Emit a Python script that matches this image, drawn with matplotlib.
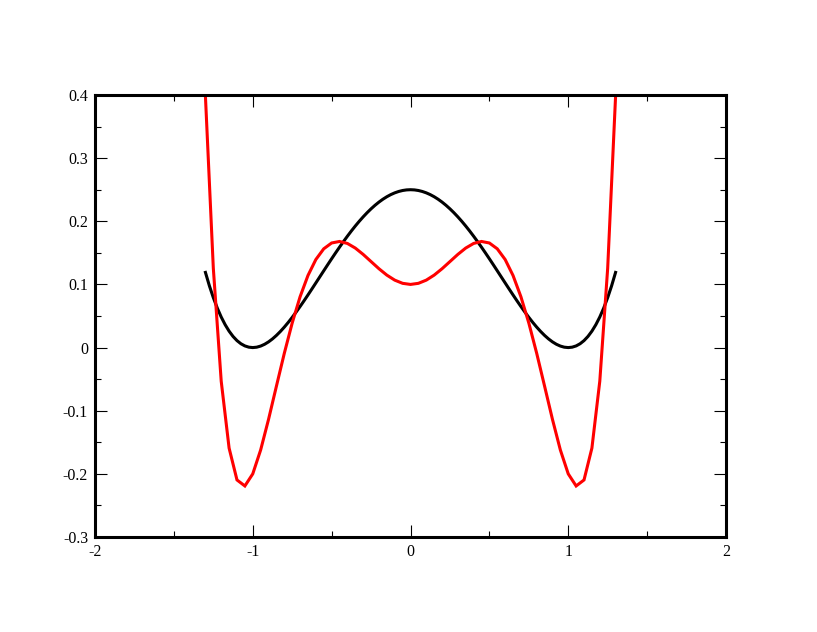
import numpy as np
import matplotlib
matplotlib.use("Agg")
import matplotlib.pyplot as plt
from matplotlib.ticker import MultipleLocator

plt.rcParams["font.family"] = ["Liberation Serif", "DejaVu Serif"]
plt.rcParams["axes.unicode_minus"] = False

# red curve, sampled every 0.05 (kinks visible near the minima)
x_red = [-1.30, -1.25, -1.20, -1.15, -1.10, -1.05, -1.00, -0.95, -0.90, -0.85,
         -0.80, -0.75, -0.70, -0.65, -0.60, -0.55, -0.50, -0.45, -0.40, -0.35,
         -0.30, -0.25, -0.20, -0.15, -0.10, -0.05, 0.00, 0.05, 0.10, 0.15,
         0.20, 0.25, 0.30, 0.35, 0.40, 0.45, 0.50, 0.55, 0.60, 0.65,
         0.70, 0.75, 0.80, 0.85, 0.90, 0.95, 1.00, 1.05, 1.10, 1.15,
         1.20, 1.25, 1.30]
red = [0.39761, 0.12563, -0.05322, -0.15920, -0.20964, -0.21917, -0.20000, -0.16217, -0.11376, -0.06111,
       -0.00906, 0.03892, 0.08045, 0.11416, 0.13946, 0.15642, 0.16563, 0.16804, 0.16490, 0.15758,
       0.14753, 0.13618, 0.12486, 0.11475, 0.10680, 0.10174, 0.10000, 0.10174, 0.10680, 0.11475,
       0.12486, 0.13618, 0.14753, 0.15758, 0.16490, 0.16804, 0.16563, 0.15642, 0.13946, 0.11416,
       0.08045, 0.03892, -0.00906, -0.06111, -0.11376, -0.16217, -0.20000, -0.21917, -0.20964, -0.15920,
       -0.05322, 0.12563, 0.39761]

# black curve, finer sampling (looks smooth)
x_black = [-1.300, -1.275, -1.250, -1.225, -1.200, -1.175, -1.150, -1.125, -1.100, -1.075,
           -1.050, -1.025, -1.000, -0.975, -0.950, -0.925, -0.900, -0.875, -0.850, -0.825,
           -0.800, -0.775, -0.750, -0.725, -0.700, -0.675, -0.650, -0.625, -0.600, -0.575,
           -0.550, -0.525, -0.500, -0.475, -0.450, -0.425, -0.400, -0.375, -0.350, -0.325,
           -0.300, -0.275, -0.250, -0.225, -0.200, -0.175, -0.150, -0.125, -0.100, -0.075,
           -0.050, -0.025, 0.000, 0.025, 0.050, 0.075, 0.100, 0.125, 0.150, 0.175,
           0.200, 0.225, 0.250, 0.275, 0.300, 0.325, 0.350, 0.375, 0.400, 0.425,
           0.450, 0.475, 0.500, 0.525, 0.550, 0.575, 0.600, 0.625, 0.650, 0.675,
           0.700, 0.725, 0.750, 0.775, 0.800, 0.825, 0.850, 0.875, 0.900, 0.925,
           0.950, 0.975, 1.000, 1.025, 1.050, 1.075, 1.100, 1.125, 1.150, 1.175,
           1.200, 1.225, 1.250, 1.275, 1.300]
black = [0.119025, 0.097852, 0.079102, 0.062656, 0.048400, 0.036219, 0.026002, 0.017639, 0.011025, 0.006055,
         0.002627, 0.000641, 0.000000, 0.000609, 0.002377, 0.005211, 0.009025, 0.013733, 0.019252, 0.025500,
         0.032400, 0.039875, 0.047852, 0.056258, 0.065025, 0.074086, 0.083377, 0.092834, 0.102400, 0.112016,
         0.121627, 0.131180, 0.140625, 0.149914, 0.159002, 0.167844, 0.176400, 0.184631, 0.192502, 0.199977,
         0.207025, 0.213617, 0.219727, 0.225328, 0.230400, 0.234922, 0.238877, 0.242249, 0.245025, 0.247196,
         0.248752, 0.249688, 0.250000, 0.249688, 0.248752, 0.247196, 0.245025, 0.242249, 0.238877, 0.234922,
         0.230400, 0.225328, 0.219727, 0.213617, 0.207025, 0.199977, 0.192502, 0.184631, 0.176400, 0.167844,
         0.159002, 0.149914, 0.140625, 0.131180, 0.121627, 0.112016, 0.102400, 0.092834, 0.083377, 0.074086,
         0.065025, 0.056258, 0.047852, 0.039875, 0.032400, 0.025500, 0.019252, 0.013733, 0.009025, 0.005211,
         0.002377, 0.000609, 0.000000, 0.000641, 0.002627, 0.006055, 0.011025, 0.017639, 0.026002, 0.036219,
         0.048400, 0.062656, 0.079102, 0.097852, 0.119025]

xticks = [-2, -1, 0, 1, 2]
xticklabels = ["-2", "-1", "0", "1", "2"]
yticks = [-0.3, -0.2, -0.1, 0.0, 0.1, 0.2, 0.3, 0.4]
yticklabels = ["-0.3", "-0.2", "-0.1", "0", "0.1", "0.2", "0.3", "0.4"]

fig = plt.figure(figsize=(8.17, 6.32), dpi=100)
ax = fig.add_axes([0.1163, 0.1503, 0.7723, 0.6994])

ax.plot(x_black, black, color="black", lw=2.2)
ax.plot(x_red, red, color="#ff0000", lw=2.2, solid_joinstyle="miter")

ax.set_xlim(-2, 2)
ax.set_ylim(-0.3, 0.4)
ax.set_xticks(xticks)
ax.set_xticklabels(xticklabels)
ax.set_yticks(yticks)
ax.set_yticklabels(yticklabels)
ax.xaxis.set_minor_locator(MultipleLocator(0.5))
ax.yaxis.set_minor_locator(MultipleLocator(0.05))

ax.tick_params(which="both", direction="in", top=True, right=True,
               labelsize=11.5, width=0.8, pad=5)
ax.tick_params(which="major", length=8.5)
ax.tick_params(which="minor", length=4.5)
for s in ax.spines.values():
    s.set_linewidth(2.2)

fig.savefig("out.png", dpi=100)
